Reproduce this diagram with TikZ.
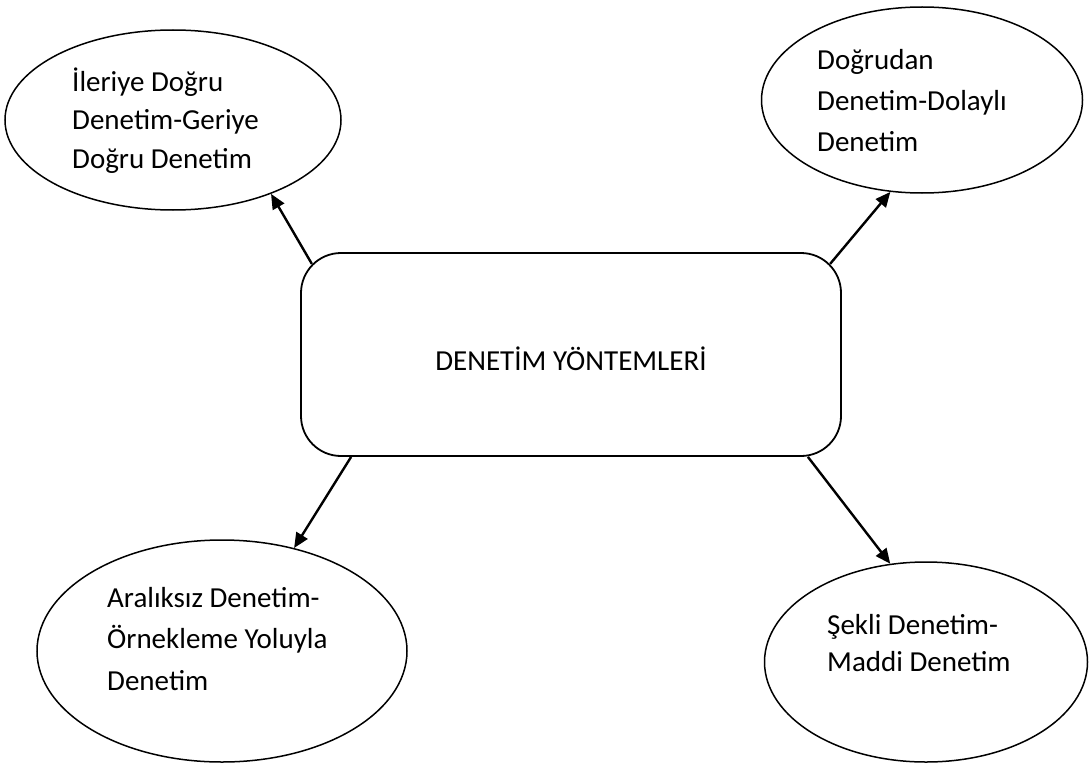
\documentclass[tikz,border=0pt]{standalone}
\usepackage{fontspec}
\setmainfont{Carlito}
\usetikzlibrary{arrows.meta,shapes.geometric,calc}
\tikzset{
  oval/.style={ellipse,draw,line width=1.5pt,inner sep=0pt},
  ovaltext/.style={anchor=west,align=left,inner sep=0pt,font={\fontsize{29}{#1}\selectfont}},
  ovaltext/.default=39.5,
  mainbox/.style={draw,rounded corners=40pt,line width=1.8pt,minimum width=540pt,minimum height=203pt,
    text height=31pt,text depth=0pt,font={\fontsize{29}{35}\selectfont}},
  arr/.style={-{Triangle[length=15pt,width=13pt]},line width=2.4pt}
}
\begin{document}
\begin{tikzpicture}[x=1pt,y=-1pt]
\useasboundingbox (0,0) rectangle (1091,765);
\node[mainbox] (yontem) at (571,354.5) {DENETİM YÖNTEMLERİ};
% ellipses
\node[oval,minimum width=336pt,minimum height=180pt] (ileri) at (173,120) {};
\node[oval,minimum width=321pt,minimum height=186pt] (dogrudan) at (922,100) {};
\node[oval,minimum width=370pt,minimum height=222pt] (aralik) at (222,651) {};
\node[oval,minimum width=323pt,minimum height=200pt] (sekli) at (926,662) {};
\node[ovaltext=38.5] (ileritext) at (72,120.5) {İleriye Doğru\\Denetim-Geriye\\Doğru Denetim};
\node[ovaltext=41] (dogrudantext) at (817,100.5) {Doğrudan\\Denetim-Dolaylı\\Denetim};
\node[ovaltext=41.5] (araliktext) at (107,639) {Aralıksız Denetim-\\Örnekleme Yoluyla\\Denetim};
\node[ovaltext=37] (seklitext) at (827,643) {Şekli Denetim-\\Maddi Denetim};
% arrows
\draw[arr] ($(yontem.north west)+(11.7,11.7)$) -- (ileri.-37);
\draw[arr] ($(yontem.north east)+(-11.7,11.7)$) -- (dogrudan.-109);
\draw[arr] ($(yontem.south west)+(51,0)$) -- (aralik.55);
\draw[arr] ($(yontem.south east)+(-34,0)$) -- (sekli.110);
\end{tikzpicture}
\end{document}
